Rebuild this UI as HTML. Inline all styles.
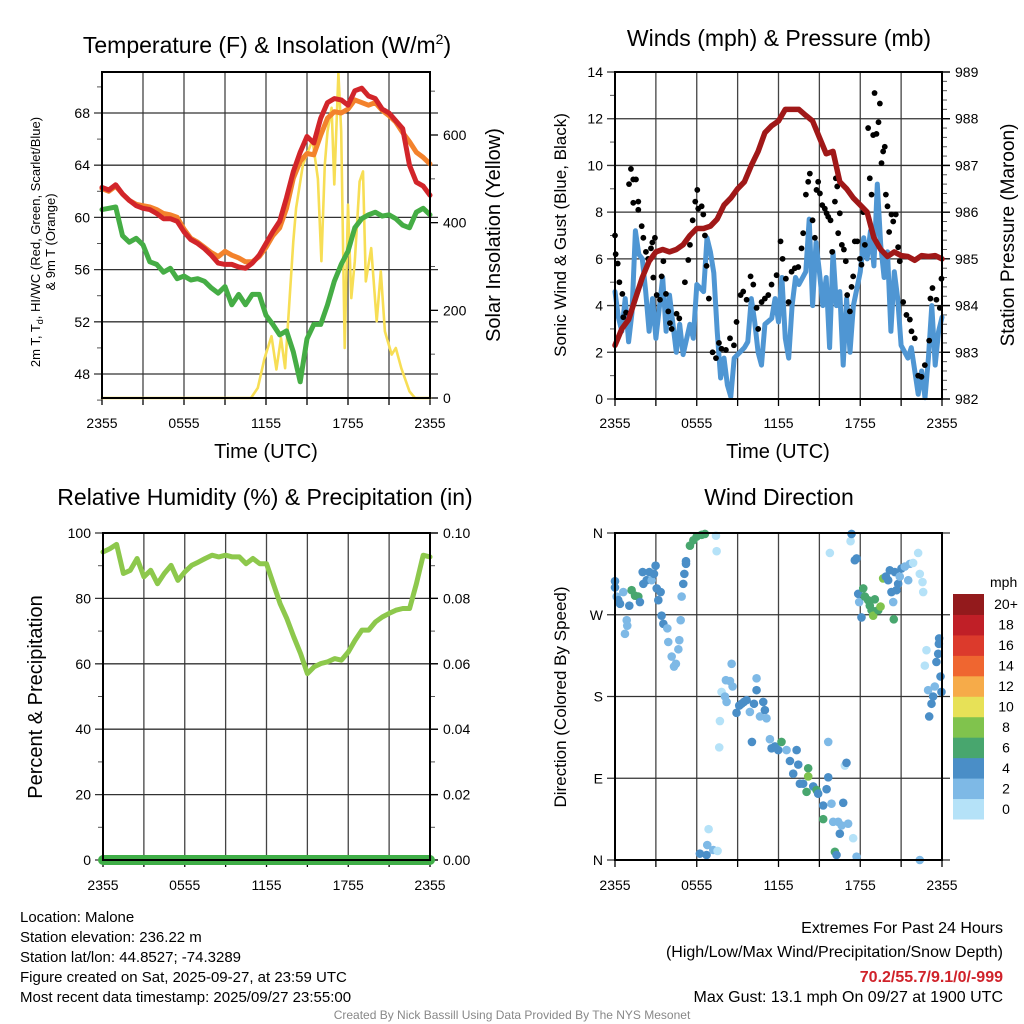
<!DOCTYPE html>
<html><head><meta charset="utf-8">
<style>
html,body{margin:0;padding:0;background:#fff;}
svg{display:block;font-family:"Liberation Sans",Arial,sans-serif;}
</style></head>
<body>
<svg id="chart" width="1024" height="1024" viewBox="0 0 1024 1024" xmlns="http://www.w3.org/2000/svg">
<rect width="1024" height="1024" fill="#fff"/>
<g id="g1"></g>
<g id="g2"></g>
<g id="g3"></g>
<g id="g4"></g>

<text x="267" y="53" font-size="23" text-anchor="middle">Temperature (F) &amp; Insolation (W/m<tspan dy="-9" font-size="14">2</tspan><tspan dy="9">)</tspan></text>
<text x="779" y="46" font-size="23" text-anchor="middle">Winds (mph) &amp; Pressure (mb)</text>
<text x="265" y="505" font-size="23" text-anchor="middle">Relative Humidity (%) &amp; Precipitation (in)</text>
<text x="779" y="505" font-size="23" text-anchor="middle">Wind Direction</text>

<text x="266" y="458" font-size="20" text-anchor="middle">Time (UTC)</text>
<text x="778" y="458" font-size="20" text-anchor="middle">Time (UTC)</text>

<text transform="translate(40,242) rotate(-90)" font-size="13" text-anchor="middle">2m T, T<tspan dy="3" font-size="9">d</tspan><tspan dy="-3">, HI/WC (Red, Green, Scarlet/Blue)</tspan></text>
<text transform="translate(55,242) rotate(-90)" font-size="13" text-anchor="middle">&amp; 9m T (Orange)</text>
<text transform="translate(500,235) rotate(-90)" font-size="20" text-anchor="middle">Solar Insolation (Yellow)</text>
<text transform="translate(566,235) rotate(-90)" font-size="17" text-anchor="middle">Sonic Wind &amp; Gust (Blue, Black)</text>
<text transform="translate(1014,235) rotate(-90)" font-size="19" text-anchor="middle">Station Pressure (Maroon)</text>
<text transform="translate(42,697) rotate(-90)" font-size="20" text-anchor="middle">Percent &amp; Precipitation</text>
<text transform="translate(566,697) rotate(-90)" font-size="17" text-anchor="middle">Direction (Colored By Speed)</text>

<g font-size="15">
<text x="20" y="922">Location: Malone</text>
<text x="20" y="942">Station elevation: 236.22 m</text>
<text x="20" y="962">Station lat/lon: 44.8527; -74.3289</text>
<text x="20" y="982">Figure created on Sat, 2025-09-27, at 23:59 UTC</text>
<text x="20" y="1002">Most recent data timestamp: 2025/09/27 23:55:00</text>
</g>
<g font-size="16" text-anchor="end">
<text x="1003" y="933">Extremes For Past 24 Hours</text>
<text x="1003" y="957">(High/Low/Max Wind/Precipitation/Snow Depth)</text>
<text x="1003" y="982" fill="#d0222a" font-weight="bold">70.2/55.7/9.1/0/-999</text>
<text x="1003" y="1002">Max Gust: 13.1 mph On 09/27 at 1900 UTC</text>
</g>
<text x="512" y="1019" font-size="12" fill="#888" text-anchor="middle">Created By Nick Bassill Using Data Provided By The NYS Mesonet</text>
</svg>
<script>
// ---------- DATA ----------
const hours = [0,0.5,1,1.5,2,2.5,3,3.5,4,4.5,5,5.5,6,6.5,7,7.5,8,8.5,9,9.5,10,10.5,11,11.5,12,12.5,13,13.5,14,14.5,15,15.5,16,16.5,17,17.5,18,18.5,19,19.5,20,20.5,21,21.5,22,22.5,23,23.5,24];
const tempF = [62.3,62.1,62.5,61.8,61.3,60.9,60.7,60.6,60.3,59.9,59.9,59.7,58.9,58.3,58.0,57.6,57.1,56.5,56.4,56.4,56.2,56.1,56.5,57.1,58.0,58.9,59.7,61.5,63.5,65.0,66.2,65.7,67.6,68.8,69.1,69.0,68.6,69.7,69.9,69.3,69.1,68.3,68.0,67.4,66.8,64.0,62.7,62.4,61.7];
const temp9mF = [62.2,62.0,62.4,61.8,61.3,61.0,60.9,60.8,60.6,60.3,60.2,60.0,59.1,58.4,58.1,57.7,57.3,57.0,57.4,57.1,56.9,56.6,56.6,57.0,57.7,58.6,59.2,60.7,63.0,64.3,64.9,64.8,66.3,67.6,68.1,68.0,68.3,69.0,68.8,68.6,68.8,68.2,67.8,67.3,66.5,65.8,65.0,64.6,64.1];
const dewF = [60.6,60.7,60.8,58.6,58.1,58.4,57.9,56.6,56.4,55.8,56.1,55.3,55.5,55.2,55.3,55.1,54.6,54.2,54.7,53.3,54.1,53.3,54.1,54.1,52.5,51.8,51.0,51.3,49.7,47.4,50.7,51.8,51.8,53.3,55.1,56.4,57.4,59.2,59.9,60.2,60.4,60.1,60.2,59.9,59.4,59.2,60.4,60.7,60.2];
const solarHours = [0,10.9,11.4,11.9,12.4,12.76,13.1,13.4,14.0,14.2,14.7,15.4,15.8,16.05,16.3,16.5,16.8,17.0,17.3,17.5,17.76,18.0,18.24,18.5,18.85,19.1,19.3,19.7,20.1,20.4,20.7,21.2,21.5,21.9,22.5,22.9,24];
const solarW = [0,0,23,91,141,65,137,68,357,433,532,589,500,312,532,608,662,487,741,608,114,441,228,312,494,517,266,342,175,289,152,99,114,68,15,0,0];
const presHours = hours;
const pressureMb = [983.15,983.5,983.7,984.15,984.6,984.95,985.15,985.2,985.15,985.2,985.3,985.5,985.65,985.65,985.7,985.85,986.15,986.3,986.5,986.65,987.0,987.3,987.7,987.85,987.95,988.2,988.2,988.2,988.07,987.95,987.6,987.25,987.3,986.65,986.5,986.3,986.15,986.0,985.45,985.2,985.05,985.15,985.07,985.05,984.97,985.07,985.05,985.07,985.0];
const windHours = [0,0.25,0.5,0.75,1,1.25,1.5,1.75,2,2.25,2.5,2.75,3,3.5,3.75,4,4.5,4.75,5,5.5,5.75,6,6.5,6.75,7,7.25,7.5,7.75,8,8.25,8.5,8.75,9,9.5,9.75,10,10.25,10.5,10.75,11,11.5,11.75,12,12.25,12.5,12.75,13,13.25,13.5,14,14.25,14.5,14.75,15,15.25,15.5,15.75,16,16.25,16.5,16.75,17,17.25,17.5,18,18.25,18.5,18.75,19,19.25,19.5,19.75,20,20.25,20.5,20.75,21,21.5,21.75,22,22.25,22.5,22.75,23,23.25,23.5,23.75,24];
const windMph = [4.6,3.5,2.9,4.3,2.45,3.7,7.2,6.2,6.0,4.6,2.9,4.3,2.6,5.2,2.9,4.45,2.0,3.2,1.9,3.2,2.6,4.9,4.6,6.9,6.3,5.4,2.9,0.9,1.75,0.6,0.1,1.75,1.9,2.2,2.45,4.3,3.3,2.0,1.45,3.2,3.45,4.3,3.3,5.2,2.6,1.75,4.0,5.2,4.9,5.45,7.7,4.0,6.7,5.45,4.0,5.2,2.2,6.3,4.0,4.6,1.45,4.3,2.0,4.0,5.45,6.9,6.0,7.2,5.7,9.2,6.6,5.2,6.3,2.9,5.45,4.3,2.3,1.75,2.2,1.2,0.2,1.2,0.05,1.75,4.0,1.45,2.9,3.5];
const gustHours = [0,0.05,0.2,0.32,0.54,0.61,0.81,1.03,1.17,1.34,1.54,1.34,1.71,1.71,1.96,2.08,2.27,2.44,2.64,2.74,2.93,2.81,3.06,3.3,3.42,3.55,3.74,3.91,4.03,4.16,4.52,4.72,5.13,5.38,5.5,5.7,5.89,6.04,6.11,6.36,6.48,6.6,6.72,6.89,7.16,7.41,7.63,7.82,8.14,8.44,8.73,8.92,9.22,9.41,9.66,9.95,10.15,10.39,10.51,10.76,11.0,11.25,11.49,11.86,12.15,12.3,12.54,12.74,12.96,13.2,13.45,13.69,13.81,14.01,14.18,14.3,14.5,14.67,14.79,14.91,15.04,15.21,15.4,15.53,15.65,15.82,15.94,16.14,16.21,16.31,16.38,16.5,16.65,16.8,16.94,17.04,17.24,17.36,17.48,17.6,17.78,17.97,18.09,18.22,18.34,18.58,18.7,18.83,18.95,19.05,19.19,19.34,19.44,19.56,19.68,19.8,19.88,20.0,20.12,20.29,20.42,20.61,20.78,20.9,21.15,21.39,21.64,21.76,22.0,22.25,22.49,22.74,23.06,23.15,23.3,23.59,23.84,23.96];
const gustMph = [7.0,6.2,5.8,5.0,4.5,3.5,3.7,9.2,9.85,9.4,9.4,8.4,8.45,8.1,7.4,6.9,6.3,6.0,6.45,6.7,6.9,5.2,4.45,4.25,5.25,5.9,4.5,3.75,3.25,3.0,3.65,3.45,5.0,5.95,6.6,7.65,8.45,8.95,8.15,8.25,7.9,7.0,5.7,4.3,2.0,1.75,2.4,2.15,2.1,2.6,2.3,3.3,4.45,4.6,4.25,5.25,4.9,3.9,3.0,4.15,4.3,4.45,4.9,5.3,6.75,6.0,5.15,4.15,5.45,5.6,5.65,6.45,7.1,8.75,9.3,9.65,7.65,6.9,8.95,9.3,8.8,8.3,8.15,7.95,7.8,7.65,6.3,8.45,9.45,9.1,7.1,7.95,6.6,6.4,5.9,4.45,3.75,4.8,5.25,6.75,6.75,6.0,5.75,8.0,6.6,11.6,9.45,8.75,11.3,13.1,11.35,11.85,12.65,10.1,10.6,10.8,8.75,8.25,7.15,7.9,7.6,7.9,6.5,5.9,4.15,3.6,3.4,2.9,2.6,1.0,0.95,1.45,2.5,4.3,4.75,4.25,3.9,5.15];
const rhPct = [94.2,95.2,96.5,87.6,88.6,92.2,86.6,88.6,84.5,87.6,90.1,85.5,88.1,90.1,91.1,92.2,93.2,92.7,93.2,92.7,92.7,90.6,92.2,90.6,90.6,84.5,78.4,73.8,68.2,63.1,57.0,59.1,60.1,60.6,61.6,61.1,63.6,67.2,70.3,70.3,72.8,74.3,75.4,76.4,76.9,76.9,84.5,93.2,92.7];
const precipIn = [0,0,0,0,0,0,0,0,0,0,0,0,0,0,0,0,0,0,0,0,0,0,0,0,0,0,0,0,0,0,0,0,0,0,0,0,0,0,0,0,0,0,0,0,0,0,0,0,0];
const dirHours = [0,0,0.12,0.24,0.37,0.61,1.05,1.22,1.47,1.71,1.83,2.03,2.08,2.32,2.52,2.69,2.86,2.98,3.06,3.18,3.35,0.86,0.73,0.9,
 3.42,3.55,3.84,3.91,4.16,4.33,4.47,4.65,4.72,4.82,4.89,5.01,5.09,5.21,5.21,5.5,5.75,5.99,6.36,6.6,7.41,7.46,
 6.23,6.72,6.77,6.87,7.21,7.53,
 7.82,8.07,8.19,7.7,7.65,8.56,8.14,8.44,8.63,8.92,9.12,9.29,9.46,9.66,9.9,10.05,10.2,10.39,10.39,10.64,10.88,11.0,11.12,11.37,11.49,11.74,11.98,12.22,12.59,12.84,13.08,13.33,13.45,13.57,13.81,14.06,14.18,14.18,14.55,14.79,14.91,15.28,15.28,15.53,15.65,15.65,15.89,16.01,16.14,16.26,16.38,16.5,16.63,16.75,16.87,16.99,17.11,17.48,17.73,15.77,17.29,17.36,
 17.6,17.73,17.85,17.92,18.09,18.22,18.34,18.58,18.7,18.83,18.95,19.07,19.32,19.49,19.68,19.88,20.05,20.17,20.29,20.42,20.46,20.54,20.66,20.78,20.9,21.03,21.27,21.52,21.64,21.88,22.25,22.37,22.57,22.62,
 22.37,22.86,22.74,22.98,23.06,23.23,23.35,23.47,23.59,23.72,23.77,23.79,23.89,23.96];
const dirDeg = [300,307,290,286,282,295,280,297,291,290,284,317,304,308,317,308,315,324,299,286,295,264,249,258,
 269,260,255,240,224,213,216,232,242,264,290,304,315,326,329,346,352,356,358,359,357,340,
 7,5.5,16.5,34,11,10,
 185,180,174,153,124,216,198,197,191,162,170,172,174,176,163,130,172,200,187,158,174,165,156,133,123,125,121,130,121,109,95,121,105,84,84,75,101,92,81,77,73,60,45,78,91,130,62,42,9,5.5,42,29,38,63,104,107,40,24,3.7,338,351,359,
 330,332,293,284,267,299,290,286,280,275,269,287,275,279,310,312,308,319,295,284,265,317,297,304,312,321,323,308,326,327,338,315,306,295,
 0,231,214,187,158,172,180,191,218,227,238,244,202,185];
const dirSpeed = [5,5,3,5,5,3,5,7,7,7,5,5,5,5,5,3,5,5,5,5,5,3,3,3,
 5,5,3,3,3,3,3,3,3,3,3,5,5,5,5,7,7,7,7,7,1,1,
 5,5,3,1,3,1,
 1,3,3,1,1,3,3,3,3,5,5,5,5,5,3,5,5,3,5,3,5,5,3,3,5,5,5,7,3,5,5,5,5,5,5,7,7,9,5,7,5,5,7,5,5,3,3,3,7,5,3,5,3,5,1,5,3,1,3,1,1,
 5,5,5,5,3,5,7,7,7,7,7,9,7,7,9,9,5,5,5,5,3,7,5,5,5,3,5,3,3,3,1,1,1,1,
 1,3,1,1,3,5,5,5,3,5,5,5,5,5];
const speedBinLabels = ["0","2","4","6","8","10","12","14","16","18","20+"];
const speedBinColors = ["#b5e2f8","#7eb9e6","#4a8ec7","#48a66e","#80c34d","#e7e157","#f6ab49","#ef6630","#dc3a2c","#c01f27","#931a1c"];
const xTickLabels = ["2355","0555","1155","1755","2355"];

// ---------- HELPERS ----------
const NS = "http://www.w3.org/2000/svg";
function mk(tag, attrs, parent){
  const e = document.createElementNS(NS, tag);
  for (const k in attrs) e.setAttribute(k, attrs[k]);
  parent.appendChild(e); return e;
}
function scale(d0,d1,r0,r1){ return v => r0 + (v-d0)/(d1-d0)*(r1-r0); }

function frame(g, x0, x1, y0, y1, yTicksL, yMinorL, ySc, yLabels, xSc){
  for (let h=3; h<24; h+=3){
    const l = mk('line',{x1:xSc(h),x2:xSc(h),y1:y0,y2:y1,stroke:'#444','stroke-width':1.3},g);
    
    
  }
  yTicksL.forEach(v=>{
    const y = ySc(v);
    const l = mk('line',{x1:x0-8,x2:x1+8,y1:y,y2:y,stroke:'#333','stroke-width':1.3},g);
    
    
  });
  yMinorL.forEach(v=>{
    mk('line',{x1:x0-5,x2:x0,y1:ySc(v),y2:ySc(v),stroke:'#555','stroke-width':1},g);
  });
  yTicksL.forEach((v,i)=>{
    const t = mk('text',{x:x0-12,y:ySc(v)+5,'font-size':14,'text-anchor':'end'},g);
    t.textContent = yLabels[i];
    
    
  });
  for (let h=0; h<=24; h+=3){
    mk('line',{x1:xSc(h),x2:xSc(h),y1:y1,y2:y1+7,stroke:'#000','stroke-width':1.3},g);
  }
}
function xLabels(g, xSc, y){
  xTickLabels.forEach((s,i)=>{
    const t = mk('text',{x:xSc(i*6),y:y,'font-size':14,'text-anchor':'middle'},g);
    t.textContent = s;
    
    
  });
}
function border(g,x0,x1,y0,y1){
  const r = mk('rect',{x:x0,y:y0,width:x1-x0,height:y1-y0,fill:'none',stroke:'#000','stroke-width':2},g);
  
  
}
function line(g, xs, ys, xSc, ySc, color, w, name){
  const d = xs.map((x,i)=>(i?'L':'M')+xSc(x).toFixed(1)+','+ySc(ys[i]).toFixed(1)).join('');
  const p = mk('path',{d:d,fill:'none',stroke:color,'stroke-width':w,'stroke-linejoin':'round','stroke-linecap':'round'},g);
  
  
  return p;
}
function rightTicks(g, x1, vals, sc, labels, minor){
  minor.forEach(v=>mk('line',{x1:x1,x2:x1+5,y1:sc(v),y2:sc(v),stroke:'#555','stroke-width':1},g));
  vals.forEach((v,i)=>{
    mk('line',{x1:x1,x2:x1+8,y1:sc(v),y2:sc(v),stroke:'#000','stroke-width':1.3},g);
    const t = mk('text',{x:x1+13,y:sc(v)+5,'font-size':14},g);
    t.textContent = labels[i];
    
    
  });
}

// ---------- PANEL 1 ----------
(function(){
  const g = document.getElementById('g1');
  const x0=102,x1=430,y0=72,y1=398;
  const xs = scale(0,24,x0,x1);
  const ys = scale(48,68,374,113);
  const ySol = scale(0,600,398,135);
  const maj=[48,52,56,60,64,68], minr=[46,50,54,58,62,66,70];
  frame(g,x0,x1,y0,y1,maj,minr,ys,maj.map(String),xs);
  rightTicks(g,x1,[0,200,400,600],ySol,['0','200','400','600'],[100,300,500,700]);
  line(g,solarHours,solarW,xs,ySol,'#f7de55',2.6,'solar-insolation-line');
  line(g,hours,dewF,xs,ys,'#45ad45',5,'dewpoint-line');
  line(g,hours,temp9mF,xs,ys,'#f3822c',5,'temp-9m-line');
  line(g,hours,tempF,xs,ys,'#d2252a',5,'temp-2m-line');
  border(g,x0,x1,y0,y1);
  xLabels(g,xs,428);
})();

// ---------- PANEL 2 ----------
(function(){
  const g = document.getElementById('g2');
  const x0=615,x1=942,y0=72,y1=399;
  const xs = scale(0,24,x0,x1);
  const ys = scale(0,14,399,72);
  const yp = scale(982,989,399,72);
  const maj=[0,2,4,6,8,10,12,14], minr=[1,3,5,7,9,11,13];
  frame(g,x0,x1,y0,y1,maj,minr,ys,maj.map(String),xs);
  const pm=[982,983,984,985,986,987,988,989];
  const pminor=[];
  for(let p=982.2;p<989;p+=0.2) pminor.push(p);
  rightTicks(g,x1,pm,yp,pm.map(String),pminor);
  line(g,windHours,windMph,xs,ys,'#4f96d3',5,'sonic-wind-line');
  gustHours.forEach((h,i)=>{
    const c = mk('circle',{cx:xs(h),cy:ys(gustMph[i]),r:2.9,fill:'#000'},g);
    
    
  });
  line(g,presHours,pressureMb,xs,yp,'#a01818',5.5,'pressure-line');
  border(g,x0,x1,y0,y1);
  xLabels(g,xs,428);
})();

// ---------- PANEL 3 ----------
(function(){
  const g = document.getElementById('g3');
  const x0=103,x1=430,y0=533,y1=860;
  const xs = scale(0,24,x0,x1);
  const ys = scale(0,100,860,533);
  const yPr = scale(0,0.1,860,533);
  const maj=[0,20,40,60,80,100], minr=[10,30,50,70,90];
  frame(g,x0,x1,y0,y1,maj,minr,ys,maj.map(String),xs);
  const pv=[0,0.02,0.04,0.06,0.08,0.1];
  rightTicks(g,x1,pv,yPr,['0.00','0.02','0.04','0.06','0.08','0.10'],[0.01,0.03,0.05,0.07,0.09]);
  line(g,hours,rhPct,xs,ys,'#8dc84c',5,'relative-humidity-line');
  line(g,hours,precipIn,xs,yPr,'#3fae47',10,'precipitation-line');
  mk('line',{x1:x0,x2:x1,y1:y1,y2:y1,stroke:'#000','stroke-width':1.5},g);
  border(g,x0,x1,y0,y1);
  xLabels(g,xs,890);
})();

// ---------- PANEL 4 ----------
(function(){
  const g = document.getElementById('g4');
  const x0=615,x1=942,y0=533,y1=860;
  const xs = scale(0,24,x0,x1);
  const ys = scale(0,360,860,533);
  frame(g,x0,x1,y0,y1,[0,90,180,270,360],[],ys,['N','E','S','W','N'],xs);
  dirHours.forEach((h,i)=>{
    const sp = (dirSpeed[i] === undefined) ? 5 : dirSpeed[i];
    const bin = Math.min(10,Math.floor(sp/2));
    const c = mk('circle',{cx:xs(h),cy:ys(dirDeg[i]),r:4.3,fill:speedBinColors[bin]},g);
    
    
  });
  border(g,x0,x1,y0,y1);
  xLabels(g,xs,890);
  const cbTop=594, cbBot=819, cbX=953, cbW=31;
  const bh=(cbBot-cbTop)/speedBinColors.length;
  speedBinColors.forEach((col,i)=>{
    const y = cbBot-(i+1)*bh;
    const r = mk('rect',{x:cbX,y:y,width:cbW,height:bh+0.5,fill:col},g);
    
    
    const t = mk('text',{x:1006,y:y+bh/2+5,'font-size':14,'text-anchor':'middle'},g);
    t.textContent = speedBinLabels[i];
    
    
  });
  const u = mk('text',{x:990,y:587,'font-size':14},g);
  u.textContent='mph';
  
  
})();
</script>
</body></html>
